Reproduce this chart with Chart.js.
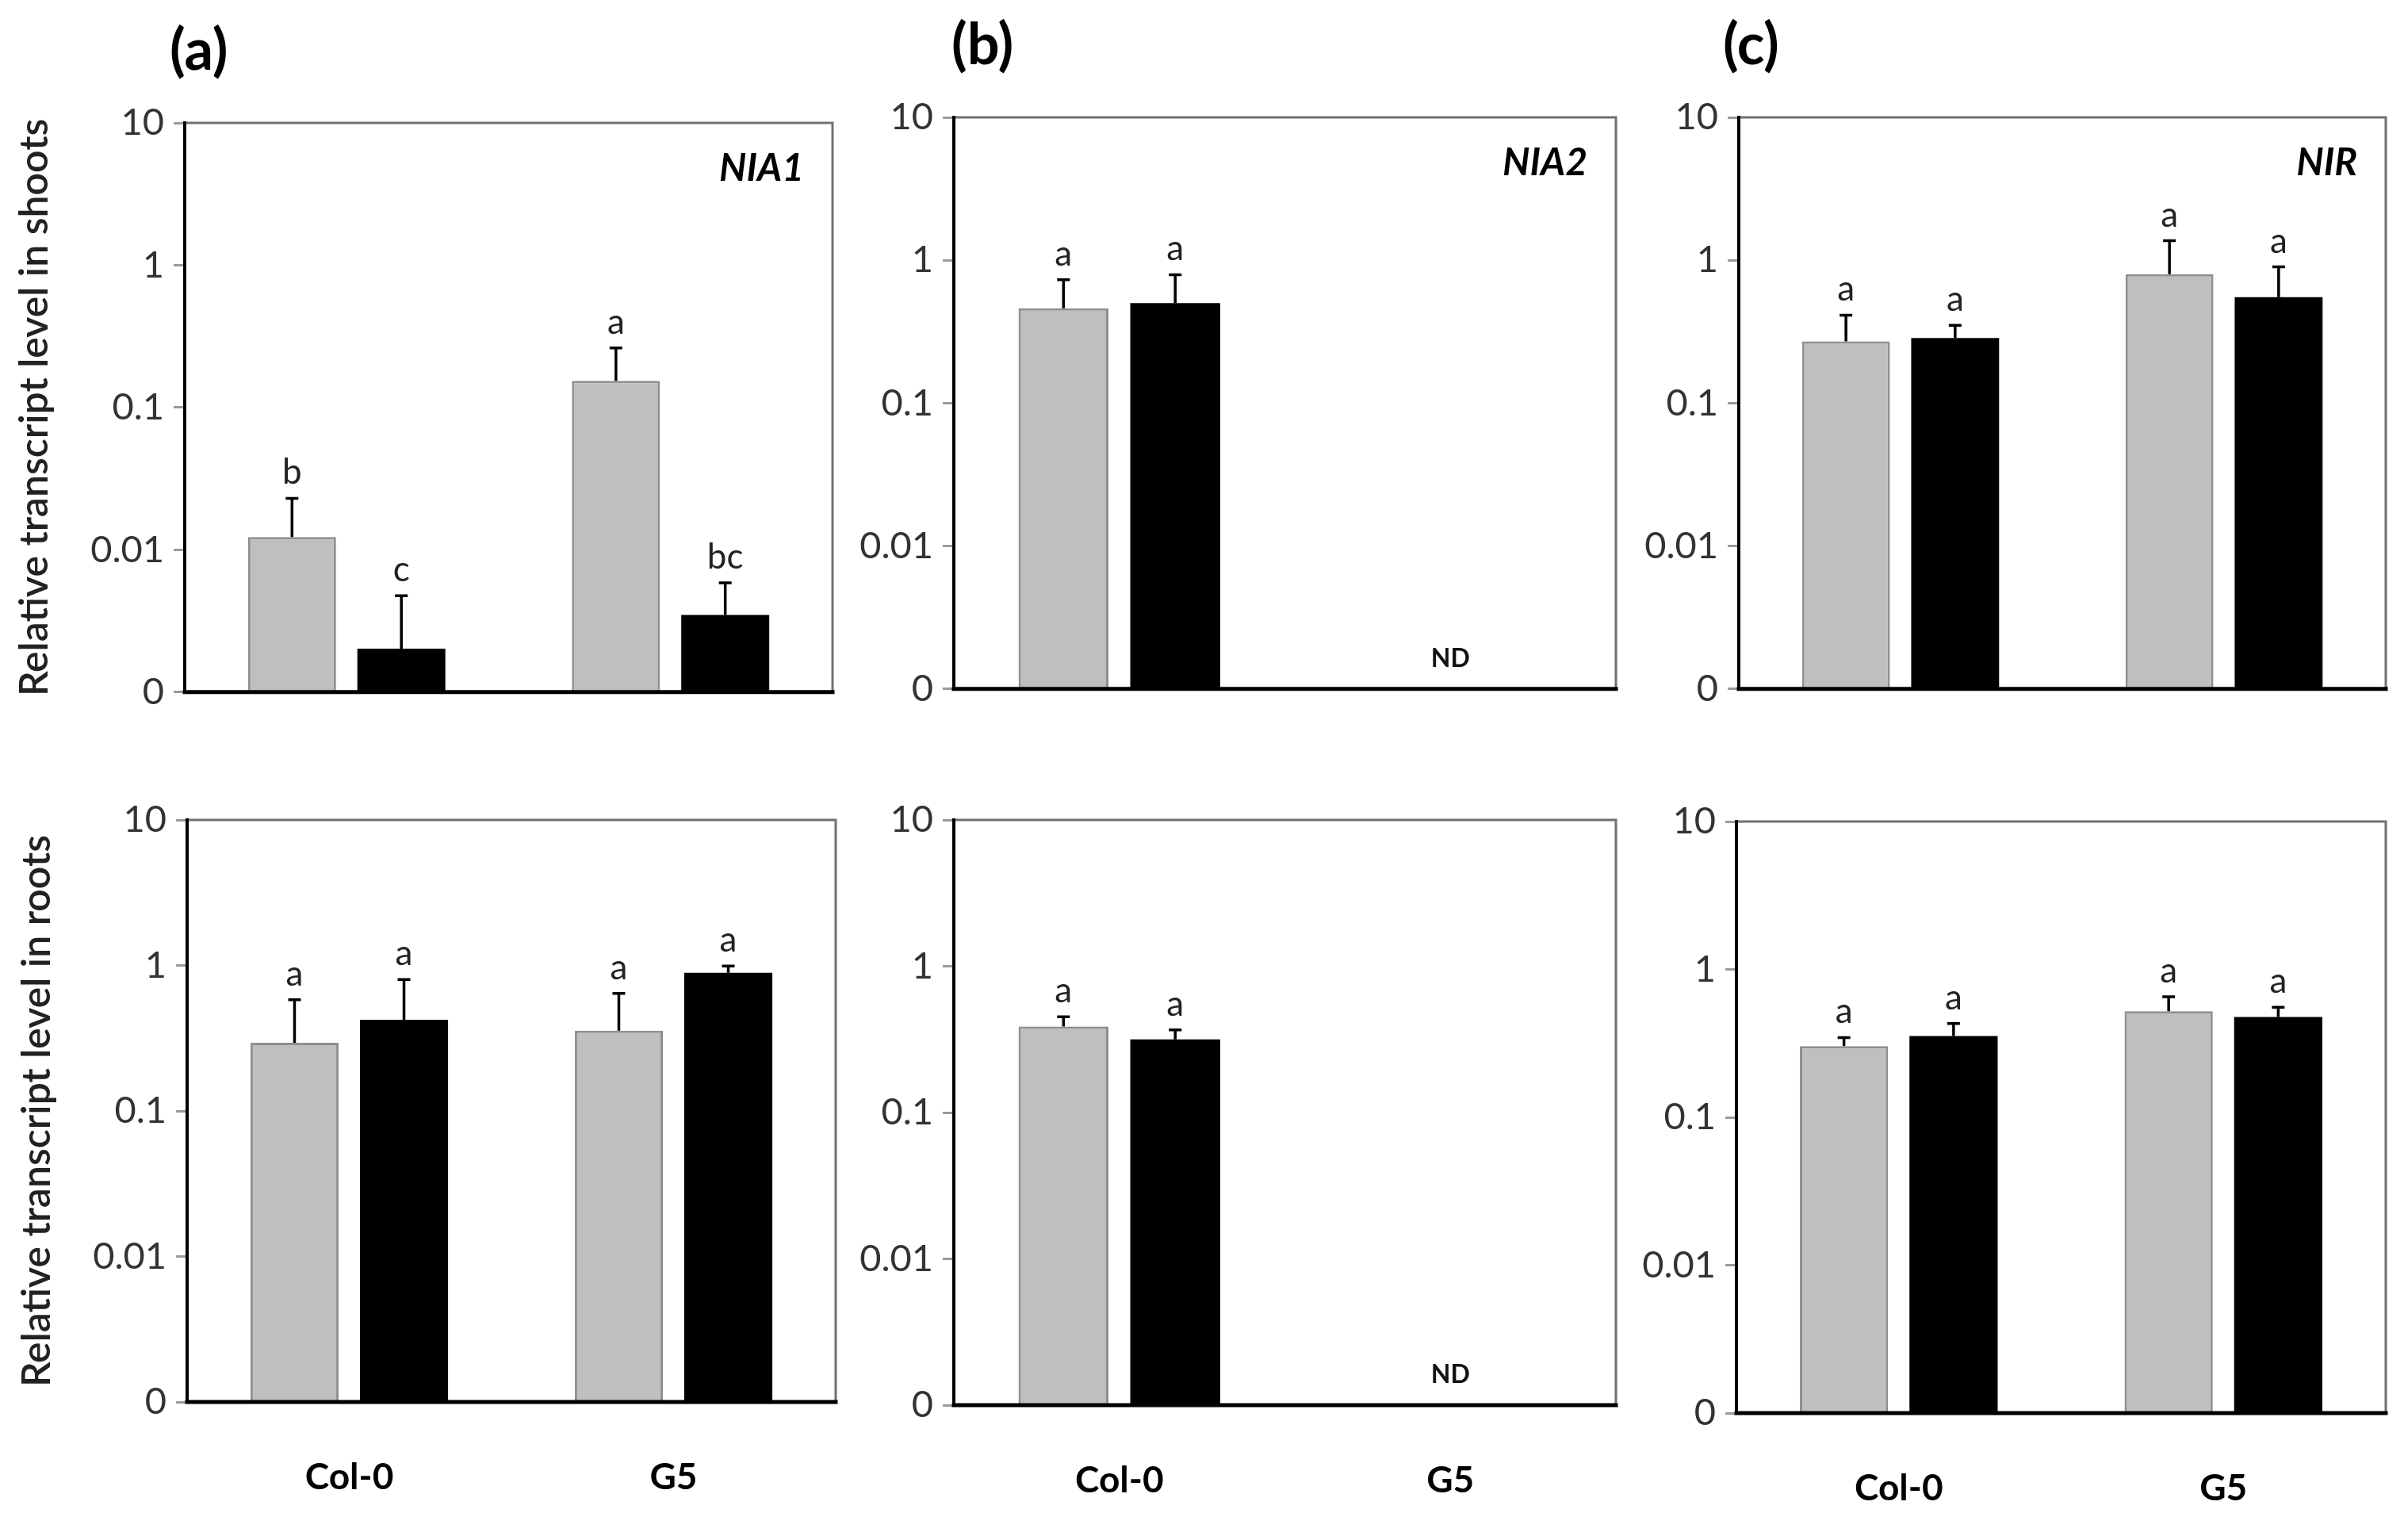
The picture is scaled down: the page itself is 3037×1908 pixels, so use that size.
<!DOCTYPE html>
<html>
<head>
<meta charset="utf-8">
<title>Relative transcript levels</title>
<script src="https://cdn.jsdelivr.net/npm/chart.js@4.4.1/dist/chart.umd.min.js"></script>
<style>
  html, body { margin: 0; padding: 0; background: #fff; }
  body { position: relative; width: 3037px; height: 1908px; overflow: hidden; }
  canvas { position: absolute; }
</style>
</head>
<body>
<script>
const groups = ["Col-0", "G5"];
const genes = ["NIA1", "NIA2", "NIR"];
const panelLabels = ["(a)", "(b)", "(c)"];
const rowTitles = ["Relative transcript level in shoots", "Relative transcript level in roots"];
const tickValues = [0.001, 0.01, 0.1, 1, 10];
const tickLabels = ["0", "0.01", "0.1", "1", "10"];

// shoots, one pair per gene: [Col-0, G5]; null = not detected
const shootGrey = [[0.0123, 0.154], [0.462, null], [0.271, 0.798]];
const shootGreyErr = [[0.0230, 0.262], [0.731, null], [0.413, 1.37]];
const shootGreyLetters = [["b", "a"], ["a", ""], ["a", "a"]];
const shootBlack = [[0.00202, 0.00348], [0.501, null], [0.286, 0.552]];
const shootBlackErr = [[0.00476, 0.00586], [0.792, null], [0.351, 0.898]];
const shootBlackLetters = [["c", "bc"], ["a", ""], ["a", "a"]];

// roots
const rootGrey = [[0.294, 0.356], [0.387, null], [0.303, 0.521]];
const rootGreyErr = [[0.582, 0.643], [0.451, null], [0.346, 0.653]];
const rootGreyLetters = [["a", "a"], ["a", ""], ["a", "a"]];
const rootBlack = [[0.424, 0.891], [0.316, null], [0.354, 0.477]];
const rootBlackErr = [[0.801, 0.991], [0.367, null], [0.430, 0.554]];
const rootBlackLetters = [["a", "a"], ["a", ""], ["a", "a"]];

// plot area of each panel on the page
const plotBoxes = [
  [{ l: 233, t: 155, r: 1050, b: 883 }, { l: 1203, t: 148, r: 2038, b: 879 }, { l: 2193, t: 148, r: 3009, b: 879 }],
  [{ l: 236, t: 1034, r: 1054, b: 1768 }, { l: 1203, t: 1034, r: 2038, b: 1772 }, { l: 2190, t: 1036, r: 3009, b: 1782 }]
];

Chart.defaults.font.family = "Lato, 'Open Sans', sans-serif";
Chart.defaults.color = "#222";

const frame = {
  id: "frame",
  afterDatasetsDraw(chart) {
    const { ctx, chartArea: a } = chart;
    ctx.save();
    ctx.lineCap = "square";
    ctx.strokeStyle = "#707070";
    ctx.lineWidth = 3;
    ctx.beginPath();
    ctx.moveTo(a.left, a.top);
    ctx.lineTo(a.right, a.top);
    ctx.lineTo(a.right, a.bottom);
    ctx.stroke();
    ctx.strokeStyle = "#000";
    ctx.lineWidth = 4;
    ctx.beginPath();
    ctx.moveTo(a.left, a.top);
    ctx.lineTo(a.left, a.bottom);
    ctx.stroke();
    ctx.lineWidth = 5;
    ctx.beginPath();
    ctx.moveTo(a.left, a.bottom);
    ctx.lineTo(a.right, a.bottom);
    ctx.stroke();
    ctx.restore();
  }
};

const errorBars = {
  id: "errorBars",
  afterDraw(chart) {
    const { ctx } = chart;
    const y = chart.scales.y;
    ctx.save();
    chart.data.datasets.forEach((ds, d) => {
      const meta = chart.getDatasetMeta(d);
      meta.data.forEach((bar, i) => {
        if (ds.data[i] == null) return;
        const top = y.getPixelForValue(ds.errTop[i]);
        ctx.strokeStyle = "#000";
        ctx.lineWidth = 3.5;
        ctx.beginPath();
        ctx.moveTo(bar.x, bar.y);
        ctx.lineTo(bar.x, top);
        ctx.moveTo(bar.x - 8, top);
        ctx.lineTo(bar.x + 8, top);
        ctx.stroke();
        ctx.fillStyle = "#222";
        ctx.font = "44px Lato, sans-serif";
        ctx.textAlign = "center";
        ctx.textBaseline = "alphabetic";
        ctx.fillText(ds.letters[i], bar.x, top - 18);
      });
    });
    // ND where neither series was detected
    const x = chart.scales.x;
    chart.data.labels.forEach((lab, i) => {
      const missing = chart.data.datasets.every(ds => ds.data[i] == null);
      if (!missing) return;
      ctx.fillStyle = "#111";
      ctx.font = "bold 32px Lato, sans-serif";
      ctx.textAlign = "center";
      ctx.textBaseline = "middle";
      ctx.fillText("ND", x.getPixelForValue(i), chart.chartArea.bottom - 38);
    });
    const opts = chart.options.plugins.errorBars;
    const a = chart.chartArea;
    if (opts.panel) {
      ctx.fillStyle = "#000";
      ctx.font = "bold 72px Lato, sans-serif";
      ctx.textAlign = "left";
      ctx.textBaseline = "middle";
      ctx.fillText(opts.panel, a.left + opts.panelDx, a.top - 90);
    }
    if (opts.gene) {
      ctx.fillStyle = "#000";
      ctx.font = "italic bold 48px Lato, sans-serif";
      ctx.textAlign = "right";
      ctx.textBaseline = "middle";
      ctx.fillText(opts.gene, a.right - 36, a.top + 58);
    }
    ctx.restore();
  }
};

const L = 230, R = 60;

function makePanel(row, col) {
  const box = plotBoxes[row][col];
  const T = row === 0 ? box.t : 80;
  const B = row === 0 ? 30 : 130;
  const plotW = box.r - box.l;
  const plotH = box.b - box.t;

  const canvas = document.createElement("canvas");
  canvas.width = L + plotW + R;
  canvas.height = T + plotH + B;
  canvas.style.left = (box.l - L) + "px";
  canvas.style.top = (box.t - T) + "px";
  canvas.style.width = canvas.width + "px";
  canvas.style.height = canvas.height + "px";
  document.body.appendChild(canvas);

  const grey = row === 0 ? shootGrey : rootGrey;
  const greyErr = row === 0 ? shootGreyErr : rootGreyErr;
  const greyLetters = row === 0 ? shootGreyLetters : rootGreyLetters;
  const black = row === 0 ? shootBlack : rootBlack;
  const blackErr = row === 0 ? shootBlackErr : rootBlackErr;
  const blackLetters = row === 0 ? shootBlackLetters : rootBlackLetters;

  new Chart(canvas, {
    type: "bar",
    data: {
      labels: groups,
      datasets: [
        {
          data: grey[col],
          errTop: greyErr[col],
          letters: greyLetters[col],
          backgroundColor: "#bfbfbf",
          borderColor: "#8f8f8f",
          borderWidth: 3,
          borderSkipped: "bottom"
        },
        {
          data: black[col],
          errTop: blackErr[col],
          letters: blackLetters[col],
          backgroundColor: "#000",
          borderColor: "#000",
          borderWidth: 0
        }
      ]
    },
    options: {
      responsive: false,
      devicePixelRatio: 1,
      animation: false,
      layout: { padding: { left: 0, top: T, right: R, bottom: 0 } },
      datasets: {
        bar: { categoryPercentage: 0.675, barPercentage: 0.805 }
      },
      plugins: {
        legend: { display: false },
        tooltip: { enabled: false },
        errorBars: {
          panel: row === 0 ? panelLabels[col] : null,
          panelDx: [-19, -3, -20][col],
          gene: row === 0 ? genes[col] : null
        }
      },
      scales: {
        x: {
          type: "category",
          grid: { display: false },
          border: { display: false },
          ticks: {
            display: row === 1,
            color: "#000",
            font: { size: 46, weight: "bold" },
            padding: 60
          },
          afterFit(s) { s.height = B; }
        },
        y: {
          type: "logarithmic",
          min: 0.001,
          max: 10,
          afterBuildTicks(s) { s.ticks = tickValues.map(v => ({ value: v })); },
          ticks: {
            autoSkip: false,
            color: "#333",
            font: { size: 47 },
            padding: 12,
            callback: v => tickLabels[tickValues.indexOf(v)]
          },
          grid: {
            drawOnChartArea: false,
            drawTicks: true,
            tickLength: 14,
            color: "#9a9a9a",
            lineWidth: 3
          },
          border: { display: false },
          title: {
            display: col === 0,
            text: rowTitles[row],
            color: "#222",
            font: { size: 50, weight: "600" },
            padding: { top: 11, bottom: 0 }
          },
          afterFit(s) { s.width = L; }
        }
      }
    },
    plugins: [frame, errorBars]
  });
}

for (let row = 0; row < 2; row++) {
  for (let col = 0; col < 3; col++) {
    makePanel(row, col);
  }
}
</script>
</body>
</html>
